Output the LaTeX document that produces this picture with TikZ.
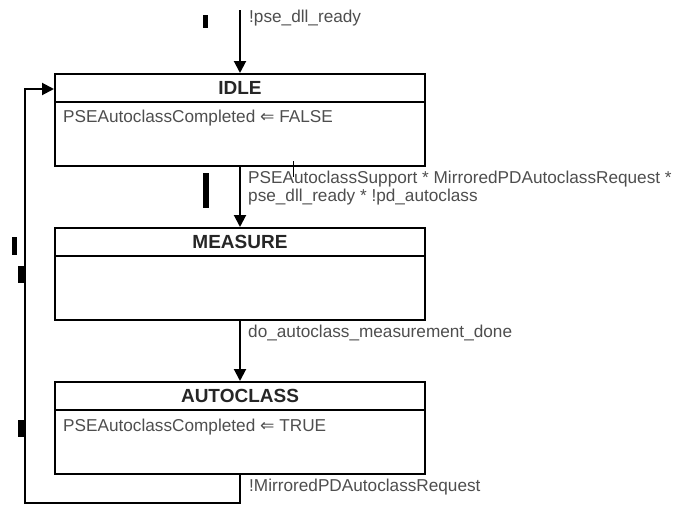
\documentclass[tikz,border=0pt]{standalone}
\usepackage{fontspec}
\setmainfont{Liberation Sans}
\newfontfamily\symfont{DejaVu Sans}
\usetikzlibrary{arrows.meta}
\definecolor{labelgray}{RGB}{78,78,78}
\tikzset{
  x=1pt, y=-1pt,
  statebox/.style={draw=black, line width=2pt, rectangle, minimum width=370pt,
    minimum height=92pt, inner sep=0pt},
  titletext/.style={font=\fontsize{19}{21}\selectfont\bfseries, text=black!85, inner sep=0pt},
  bodytext/.style={font=\fontsize{17.2}{19}\selectfont, text=labelgray, anchor=west, inner sep=0pt},
  labeltext/.style={font=\fontsize{17.2}{18.5}\selectfont, text=labelgray, anchor=west,
    inner sep=0pt, align=left},
  conn/.style={draw=black, line width=2pt, -{Triangle[length=12pt,width=12pt]}},
  markbar/.style={fill=black, draw=none},
}
\begin{document}
\begin{tikzpicture}
\useasboundingbox (0,0) rectangle (675,506);

% states
\node[statebox] (idle)      at (240,120) {};
\node[statebox] (measure)   at (240,274) {};
\node[statebox] (autoclass) at (240,428) {};

% title bars
\foreach \s/\t in {idle/IDLE, measure/MEASURE, autoclass/AUTOCLASS} {
  \draw[line width=2pt] ([yshift=-29pt]\s.north west) -- ([yshift=-29pt]\s.north east);
  \node[titletext] (\s-title) at ([yshift=-15pt]\s.north) {\t};
}

% entry actions
\node[bodytext] (idle-act) at (63,118) {PSEAutoclassCompleted {\symfont\char"21D0} FALSE};
\node[bodytext] (auto-act) at (63,427) {PSEAutoclassCompleted {\symfont\char"21D0} TRUE};

% transitions
\coordinate (start) at (240,10);
\draw[conn] (start) -- (idle.north);
\node[labeltext] (l0) at (249,18) {!pse\_dll\_ready};

\draw[conn] (idle.south) -- (measure.north);
\node[labeltext] (l1) at (248,188) {PSEAutoclassSupport * MirroredPDAutoclassRequest *\\pse\_dll\_ready * !pd\_autoclass};

\draw[conn] (measure.south) -- (autoclass.north);
\node[labeltext] (l2) at (248,333) {do\_autoclass\_measurement\_done};

\coordinate (loopcorner) at (25,503);
\draw[conn] (autoclass.south) |- (loopcorner) |- (idle.west |- 0,89);
\node[labeltext] (l3) at (249,487) {!MirroredPDAutoclassRequest};

% small marker bars
\fill[markbar] (203,15) rectangle (208,28);
\fill[markbar] (203,173) rectangle (209,208);
\fill[markbar] (12,237) rectangle (17,255);
\fill[markbar] (18,266) rectangle (25,283);
\fill[markbar] (18,420) rectangle (25,437);
\draw[black, line width=0.6pt] (293,161) -- (293,177);
\end{tikzpicture}
\end{document}
